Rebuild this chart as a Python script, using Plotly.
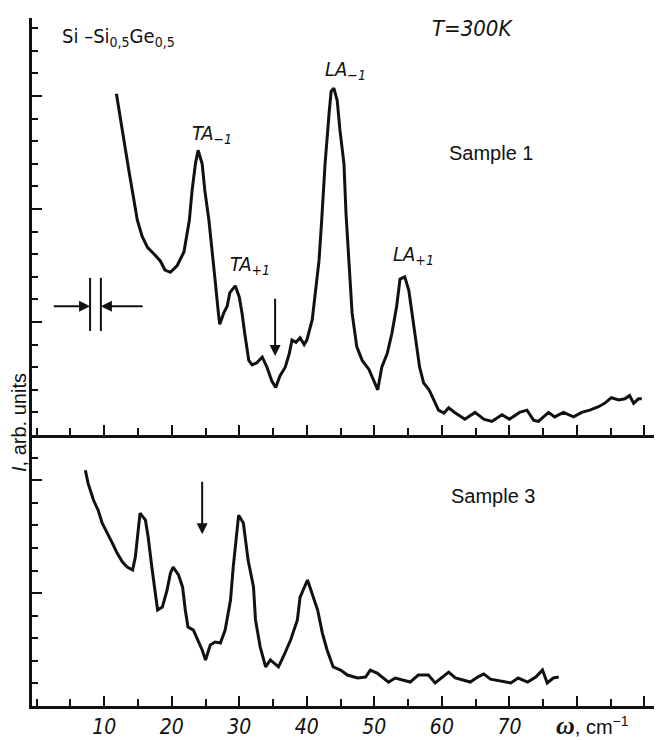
import plotly.graph_objects as go

# ---------------- data ----------------
s1_x = [11.8, 12.4, 13.1, 13.7, 14.3, 14.9, 15.6, 16.4, 17.4, 18.3, 19.0, 19.8, 20.8, 21.8,
        22.6, 23.0, 23.5, 23.9, 24.5, 24.9, 25.5, 26.0, 26.4, 26.9, 27.1, 27.7, 28.2, 28.6,
        29.4, 30.0, 30.4, 30.8, 31.4, 31.9, 32.6, 33.4, 34.1, 34.8, 35.4, 36.0, 36.8, 37.4,
        37.8, 38.4, 39.0, 39.6, 40.0, 40.8, 41.2, 41.8, 42.2, 42.7, 43.3, 43.6, 44.0, 44.5,
        44.9, 45.5, 45.8, 46.2, 46.7, 47.4, 48.2, 49.2, 49.9, 50.5, 51.1, 51.9, 52.6, 53.3,
        53.8, 54.5, 55.1, 55.6, 56.1, 56.7, 57.3, 58.1, 58.8, 59.5, 60.3, 61.0, 61.9, 63.4,
        64.9, 66.2, 67.4, 68.9, 70.0, 71.5, 72.6, 73.6, 74.3, 75.8, 76.7, 78.0, 79.5, 80.7,
        81.9, 83.2, 84.1, 85.1, 86.2, 87.1, 87.8, 88.4, 89.1, 89.6]
s1_y = [15.1, 13.9, 12.7, 11.6, 10.5, 9.5, 8.8, 8.3, 8.0, 7.7, 7.3, 7.2, 7.5, 8.1,
        9.5, 10.8, 12.0, 12.6, 12.0, 10.8, 9.5, 8.2, 6.9, 5.4, 4.9, 5.4, 5.7, 6.3,
        6.6, 6.1, 5.4, 4.5, 3.3, 3.1, 3.2, 3.45, 3.0, 2.4, 2.1, 2.6, 3.0, 3.6,
        4.2, 4.1, 4.3, 4.0, 4.2, 5.1, 6.1, 7.7, 9.5, 12.0, 14.25, 15.2, 15.35, 14.8,
        13.5, 12.0, 9.8, 7.6, 5.4, 3.9, 3.3, 2.9, 2.4, 2.0, 3.0, 3.6, 4.5, 5.7,
        6.9, 7.0, 6.4, 5.4, 4.2, 3.0, 2.3, 2.0, 1.55, 1.1, 0.97, 1.2, 1.0, 0.7,
        1.0, 0.7, 0.6, 0.9, 0.7, 1.0, 1.1, 0.65, 0.6, 1.0, 0.8, 1.0, 0.8, 1.0,
        1.1, 1.25, 1.4, 1.65, 1.55, 1.6, 1.75, 1.4, 1.6, 1.6]

s3_x = [7.2, 7.6, 8.4, 9.1, 9.7, 10.4, 11.2, 11.9, 12.7, 13.4, 14.2, 14.6, 15.0, 15.3,
        16.1, 16.5, 17.1, 17.6, 17.9, 18.6, 19.3, 19.8, 20.2, 21.0, 21.6, 22.0, 22.4, 23.2,
        23.9, 24.5, 25.0, 25.7, 26.4, 27.2, 27.9, 28.7, 29.1, 29.7, 29.9, 30.6, 31.3, 32.1,
        32.4, 33.1, 33.9, 34.6, 35.8, 36.5, 37.6, 38.6, 39.0, 40.1, 40.8, 41.6, 42.3, 43.0,
        43.9, 45.0, 46.0, 47.5, 48.7, 49.4, 50.4, 51.3, 52.1, 53.1, 54.3, 55.3, 56.5, 58.0,
        59.0, 60.1, 61.0, 62.0, 63.2, 64.2, 65.3, 66.2, 67.2, 68.7, 70.2, 71.3, 72.7, 73.9,
        74.9, 75.6, 76.5, 77.3]
s3_y = [10.44, 9.87, 9.12, 8.67, 8.1, 7.7, 7.21, 6.77, 6.37, 6.15, 6.02, 6.59, 7.65, 8.54,
        8.23, 7.48, 6.02, 4.82, 4.25, 4.38, 5.13, 5.88, 6.15, 5.8, 5.27, 4.25, 3.5, 3.36,
        2.92, 2.48, 2.04, 2.7, 2.83, 2.79, 3.36, 4.69, 6.15, 8.1, 8.45, 8.1, 6.46, 5.27,
        3.81, 2.61, 1.73, 2.04, 1.73, 2.17, 2.92, 3.81, 4.82, 5.58, 5.0, 4.25, 3.23, 2.48,
        1.73, 1.59, 1.37, 1.24, 1.28, 1.59, 1.46, 1.24, 1.06, 1.24, 1.15, 1.06, 1.37, 1.37,
        1.02, 1.28, 1.5, 1.24, 1.15, 1.06, 1.28, 1.42, 1.19, 1.11, 1.02, 1.24, 1.06, 1.28,
        1.59, 1.02, 1.24, 1.28]

x_tick_vals = [10, 20, 30, 40, 50, 60, 70, 80, 90]
x_tick_text = ["10", "20", "30", "40", "50", "60", "70", " ", " "]

# ---------------- figure ----------------
OFF = 8                      # page body margin
W, H = 654, 732
ML, MR, MT, MB = 24, 2, 10, 34
PW, PH = W - ML - MR, H - MT - MB
split = 271 / PH


def paper(px, py):
    """screen pixel -> paper coords"""
    fx, fy = px - OFF, py - OFF
    return (fx - ML) / PW, (H - MB - fy) / PH


ink = "#111111"
narrow = "DejaVu Sans Condensed, Liberation Sans Narrow, DejaVu Sans, sans-serif"
sans = "Liberation Sans, Arial, sans-serif"

fig = go.Figure()
fig.add_trace(go.Scatter(x=s1_x, y=s1_y, xaxis="x2", yaxis="y2", mode="lines",
                         line=dict(color=ink, width=3), hoverinfo="skip"))
fig.add_trace(go.Scatter(x=s3_x, y=s3_y, xaxis="x", yaxis="y", mode="lines",
                         line=dict(color=ink, width=3), hoverinfo="skip"))

common_x = dict(range=[-0.7, 92.3], showgrid=False, zeroline=False, showline=True,
                linecolor=ink, linewidth=2.5, ticks="inside", ticklen=10, tickwidth=2,
                tickcolor=ink, tickvals=x_tick_vals, automargin=False,
                minor=dict(ticks="inside", ticklen=7, tickwidth=1.6, tickcolor=ink, dtick=5, tick0=0))
common_y = dict(showgrid=False, zeroline=False, showline=True, linecolor=ink, linewidth=2.5,
                ticks="inside", ticklen=10, tickwidth=2, tickcolor=ink, dtick=5, tick0=0,
                showticklabels=False, automargin=False,
                minor=dict(ticks="inside", ticklen=6, tickwidth=1.6, tickcolor=ink, dtick=1, tick0=0))

fig.update_layout(
    width=W, height=H, margin=dict(l=ML, r=MR, t=MT, b=MB, autoexpand=False),
    paper_bgcolor="white", plot_bgcolor="white", showlegend=False,
    xaxis=dict(**common_x, anchor="y", ticktext=x_tick_text, ticklabelstandoff=0,
               tickfont=dict(family=narrow, size=21, color=ink, style="italic")),
    yaxis=dict(**common_y, domain=[0, split], range=[0, 12], anchor="x"),
    xaxis2=dict(**common_x, anchor="y2", matches="x", showticklabels=False),
    yaxis2=dict(**common_y, domain=[split, 1], range=[0, 18.45], anchor="x2"),
)

ann = []


def text_at(px, py, txt, font, size, italic=False, angle=0):
    xp, yp = paper(px, py)
    ann.append(dict(x=xp, y=yp, xref="paper", yref="paper", text=txt, showarrow=False,
                    xanchor="center", yanchor="middle", textangle=angle,
                    font=dict(family=font, size=size, color=ink,
                              style="italic" if italic else "normal")))


text_at(118, 37, "Si –Si<sub>0,5</sub>Ge<sub>0,5</sub>", narrow, 20)
text_at(472, 28, "T=300K", narrow, 22, italic=True)
text_at(491, 153, "Sample 1", sans, 20)
text_at(493, 496, "Sample 3", sans, 20)
text_at(212, 134, "TA<sub>−1</sub>", narrow, 20, italic=True)
text_at(250, 265, "TA<sub>+1</sub>", narrow, 20, italic=True)
text_at(345, 70, "LA<sub>−1</sub>", narrow, 20, italic=True)
text_at(413, 255, "LA<sub>+1</sub>", narrow, 20, italic=True)
text_at(19, 423, "<i>I</i>, arb. units", sans, 20, angle=-90)
text_at(592, 725, "<span style='font-family:Liberation Serif;font-size:26px'><b><i>ω</i></b></span>, cm<sup>−1</sup>",
        sans, 20)


def arrow(x, y, ax, ay, xr, yr):
    ann.append(dict(x=x, y=y, ax=ax, ay=ay, xref=xr, yref=yr, axref=xr, ayref=yr,
                    text="", showarrow=True, arrowhead=2, arrowsize=1.1,
                    arrowwidth=2, arrowcolor=ink))


# marker arrows
arrow(35.3, 3.5, 35.3, 6.1, "x2", "y2")
arrow(24.5, 7.6, 24.5, 10.0, "x", "y")
# resolution bracket
arrow(7.9, 5.7, 2.3, 5.7, "x2", "y2")
arrow(9.5, 5.7, 15.9, 5.7, "x2", "y2")

fig.update_layout(annotations=ann)
for xv in (7.9, 9.5):
    fig.add_shape(type="line", xref="x2", yref="y2", x0=xv, x1=xv, y0=4.6, y1=6.95,
                  line=dict(color=ink, width=2))

fig.write_html("out.html")
